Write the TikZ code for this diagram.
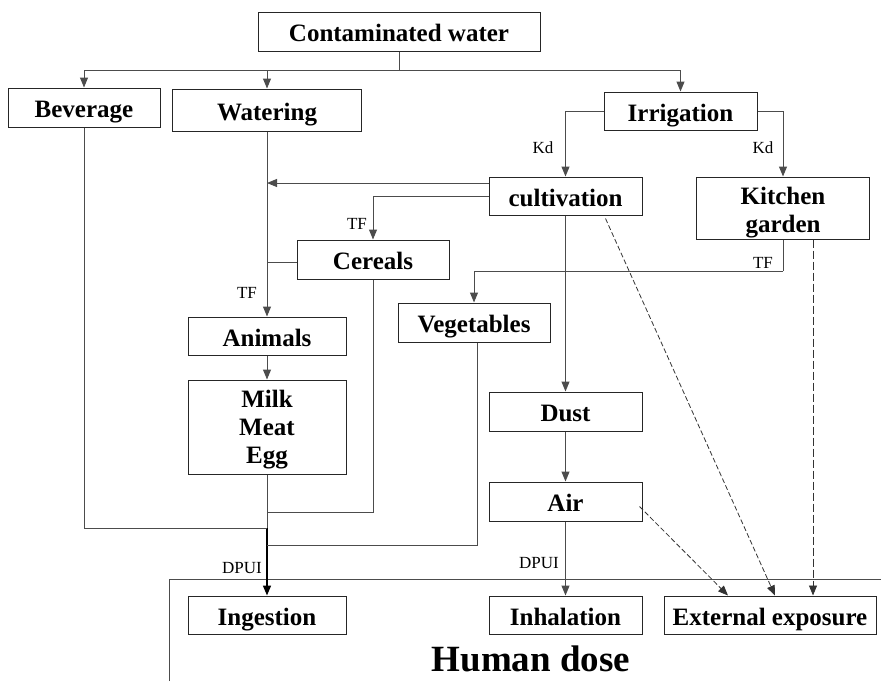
\documentclass[tikz,border=0pt]{standalone}
\usepackage{fontspec}
\setmainfont{Liberation Serif}
\usetikzlibrary{arrows.meta,calc}
\begin{document}
\begin{tikzpicture}[x=1pt,y=-1pt,
  box/.style={draw=black!85,line width=1pt,inner sep=0pt,text height=22pt,text depth=2pt,font=\fontsize{25}{28}\selectfont\bfseries},
  mbox/.style={draw=black!85,line width=1pt,inner sep=0pt,align=center,font=\fontsize{25}{28}\selectfont\bfseries},
  conn/.style={draw=black!70,line width=1pt},
  arr/.style={conn,-{Triangle[length=10pt,width=8pt]}},
  dsh/.style={draw=black!80,line width=0.8pt,dash pattern=on 5pt off 2.5pt,-{Triangle[length=10pt,width=8pt]}},
  lbl/.style={font=\fontsize{17}{18}\selectfont,inner sep=0pt}]
\useasboundingbox (0,0) rectangle (881,681);
% frame of human dose
\draw[conn] (169,681) -- (169,579) -- (881,579);
\node[font=\fontsize{37}{40}\selectfont\bfseries,inner sep=0pt] (hd) at (531,659) {Human dose};
% boxes
\node[box,minimum width=282pt,minimum height=39pt] (cw) at (399,31.5) {Contaminated water};
\node[box,minimum width=152pt,minimum height=39pt] (bev) at (84,107.5) {Beverage};
\node[box,minimum width=189pt,minimum height=42pt] (wat) at (267,110) {Watering};
\node[box,minimum width=153pt,minimum height=38pt] (irr) at (680.5,111) {Irrigation};
\node[box,minimum width=153pt,minimum height=38pt] (cult) at (565.5,196) {cultivation};
\node[mbox,minimum width=173pt,minimum height=62pt] (kg) at (783,208) {\rule{0pt}{27pt}Kitchen\\garden};
\node[box,minimum width=152pt,minimum height=39pt] (cer) at (373,259.5) {Cereals};
\node[box,minimum width=152pt,minimum height=39pt] (veg) at (474,322.5) {Vegetables};
\node[box,minimum width=158pt,minimum height=38pt] (ani) at (267,336) {Animals};
\node[mbox,minimum width=158pt,minimum height=94pt] (mme) at (267,427) {\rule{0pt}{23pt}Milk\\Meat\\Egg};
\node[box,minimum width=153pt,minimum height=39pt] (dust) at (565.5,411.5) {Dust};
\node[box,minimum width=153pt,minimum height=39pt] (air) at (565.5,501.5) {Air};
\node[box,minimum width=158pt,minimum height=38pt] (ing) at (267,615) {Ingestion};
\node[box,minimum width=153pt,minimum height=38pt] (inh) at (565.5,615) {Inhalation};
\node[box,minimum width=212pt,minimum height=38pt] (ext) at (770,615) {External exposure};
% junction coordinates
\coordinate (j0) at (399,70);
\coordinate (wj1) at (267,183);
\coordinate (wj2) at (267,262);
\coordinate (ij1) at (267,512);
\coordinate (ij2) at (267,528);
\coordinate (ij3) at (267,545);
% top distribution
\draw[conn] (cw.south) -- (j0);
\draw[arr] (j0) -| (bev.north);
\draw[arr] (j0) -| (wat.north);
\draw[arr] (j0) -| (irr.north);
\draw[arr] (irr.west) -| (cult.north);
\draw[arr] (irr.east) -| (kg.north);
\node[lbl] (kd1) at (543,148) {Kd};
\node[lbl] (kd2) at (763,148) {Kd};
% cultivation outputs
\draw[arr] ($(cult.west)+(0,-13)$) -- (wj1);
\draw[arr] (cult.west) -| (cer.north);
\node[lbl] (tf1) at (357,224) {TF};
\draw[conn] (cer.west |- wj2) -- (wj2);
\draw[arr] (wat.south) -- (ani.north);
\node[lbl] (tf2) at (247,293) {TF};
\draw[arr] (ani.south) -- (mme.north);
% to ingestion
\draw[conn] (mme.south) -- (ij2);
\draw[conn,draw=black,line width=1.6pt,-{Triangle[length=10pt,width=8pt]}] (ij2) -- (ing.north);
\draw[conn] (cer.south) |- (ij1);
\draw[conn] (bev.south) |- (ij2);
\draw[conn] ($(veg.south)+(3,0)$) |- (ij3);
\node[lbl] (dp1) at (242,568) {DPUI};
% kitchen garden to vegetables
\coordinate (kj) at (783,271);
\draw[conn] (kg.south) -- (kj);
\draw[arr] (kj) -| (veg.north);
\node[lbl] (tf3) at (763,263) {TF};
% cultivation to dust, air, inhalation
\draw[arr] (cult.south) -- (dust.north);
\draw[arr] (dust.south) -- (air.north);
\draw[arr] (air.south) -- (inh.north);
\node[lbl] (dp2) at (539,563) {DPUI};
% dashed external exposure
\draw[dsh] ($(air.east)+(-3,5)$) -- ($(ext.north)+(-42,0)$);
\draw[dsh] ($(cult.south)+(40,3)$) -- ($(ext.north)+(5,0)$);
\draw[dsh,dash pattern=on 8pt off 3pt] ($(kg.south)+(30,0)$) -- ($(ext.north)+(43,0)$);
\end{tikzpicture}
\end{document}
